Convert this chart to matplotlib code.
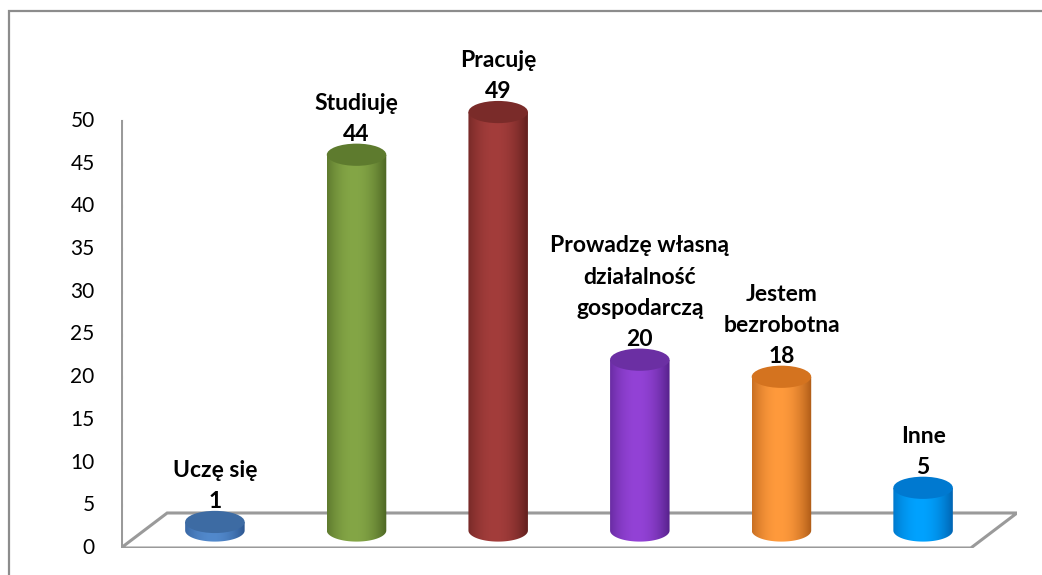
import numpy as np
import matplotlib
matplotlib.use("Agg")
import matplotlib.pyplot as plt
from matplotlib.patches import Ellipse, Polygon, Rectangle
from matplotlib.colors import to_rgb
from matplotlib.lines import Line2D

# ---- data ----
categories = ["Uczę się", "Studiuję", "Pracuję",
              "Prowadzę własną\ndziałalność\ngospodarczą",
              "Jestem\nbezrobotna", "Inne"]
values = [1, 44, 49, 20, 18, 5]
yticks = [0, 5, 10, 15, 20, 25, 30, 35, 40, 45, 50]

mid_colors = ["#5289CC", "#84A646", "#A33D3B", "#9342D6", "#FF9A3C", "#00A2FF"]
edge_colors = ["#2C5690", "#4C6523", "#62201E", "#55218A", "#AD5A16", "#0064B2"]
top_colors = ["#3D6BA3", "#5E7B2E", "#7A2B29", "#6B2FA3", "#D4731F", "#0079D0"]

W, H = 1042, 575
fig = plt.figure(figsize=(W / 100, H / 100), dpi=100)
fig.patch.set_facecolor("white")

# axes: y 0 at pixel 548, 50 at pixel 121
px_per_unit = (548 - 121) / 50.0
ymax = 548 / px_per_unit
ax = fig.add_axes([121 / W, (H - 548) / H, (1017 - 121) / W, 548 / H])

n = len(categories)
dx = 0.163      # depth offset in category units
dy = 2.05       # depth offset in value units
bw = 0.42       # cylinder width
eh = 2.6        # ellipse height (value units)

ax.set_xlim(-0.5 - dx, n - 0.5 + dx)
ax.set_ylim(0, ymax)
ax.axis("off")

grey = "#9A9A9A"
# floor parallelogram
floor = Polygon([(-0.5 - dx, 0), (n - 0.5 - dx, 0), (n - 0.5 + dx, 2 * dy), (-0.5 + dx, 2 * dy)],
                closed=True, facecolor="white", edgecolor=grey, lw=2.2, zorder=1)
ax.add_patch(floor)

# y axis line and ticks
ax.add_line(Line2D([-0.5 - dx, -0.5 - dx], [0, 50], color=grey, lw=2.2, zorder=2))
tick_len = 8 / ((1017 - 121) / (n + 2 * dx))
for t in yticks:
    ax.add_line(Line2D([-0.5 - dx - tick_len, -0.5 - dx], [t, t], color=grey, lw=2.2, zorder=2))
    ax.text(-0.5 - dx - tick_len * 3.3, t, str(t), ha="right", va="center",
            fontsize=15, family="Lato", color="black")

# cylinders
prof_t = np.linspace(0, 1, 200)
for i, (v, cm, ce, ct, lab) in enumerate(zip(values, mid_colors, edge_colors, top_colors, categories)):
    base = dy
    top = dy + v
    x0, x1 = i - bw / 2, i + bw / 2
    th = np.linspace(np.pi, 2 * np.pi, 60)
    pts = [(i + bw / 2 * np.cos(a), base + eh / 2 * np.sin(a)) for a in th]
    pts += [(x1, top), (x0, top)]
    body = Polygon(pts, closed=True, facecolor="none", edgecolor="none", zorder=3)
    ax.add_patch(body)
    # horizontal shading
    m = np.array(to_rgb(cm)); e = np.array(to_rgb(ce))
    w = np.clip(np.abs(prof_t - 0.45) / 0.55, 0, 1) ** 2.0
    grad = (1 - w)[:, None] * m[None, :] + w[:, None] * e[None, :]
    img = ax.imshow(grad[None, :, :], extent=[x0, x1, base - eh / 2, top],
                    aspect="auto", interpolation="bilinear", zorder=3)
    img.set_clip_path(body)
    # top ellipse
    ax.add_patch(Ellipse((i, top), bw, eh, facecolor=ct, edgecolor="none", zorder=4))
    # label
    ax.annotate(f"{lab}\n{v}", xy=(i, top + eh / 2), xytext=(0, -1), textcoords="offset points",
                ha="center", va="bottom", fontsize=16.5, fontweight="bold", family="Lato",
                linespacing=1.6, color="black", zorder=5, annotation_clip=False)

ax.set_xlim(-0.5 - dx, n - 0.5 + dx)
ax.set_ylim(0, ymax)

# outer border
fig.add_artist(Rectangle((9 / W, -0.1), 1.2, (H - 11) / H + 0.1, transform=fig.transFigure,
                         facecolor="none", edgecolor="#8C8C8C", lw=1.6))

fig.savefig("out.png", dpi=100, facecolor="white")
